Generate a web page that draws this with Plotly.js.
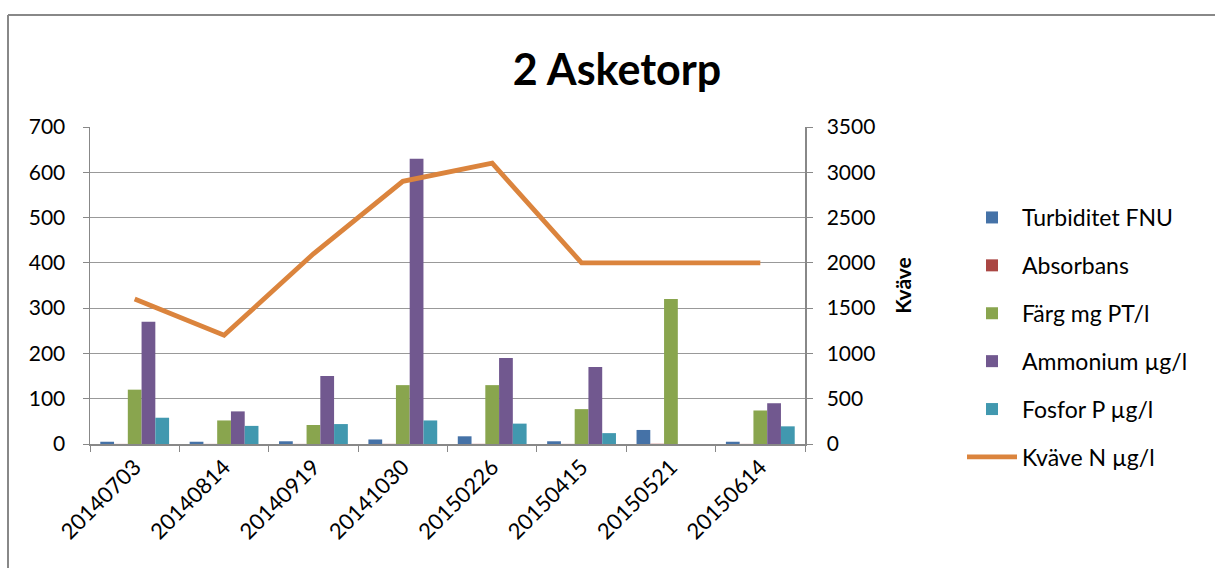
<!DOCTYPE html>
<html>
<head>
<meta charset="utf-8">
<script src="https://cdn.plot.ly/plotly-3.0.1.min.js"></script>
<style>html,body{margin:0;padding:0;background:#fff;}#chart{width:1215px;height:568px;}</style>
</head>
<body>
<div id="chart"></div>
<script>
var categories = ["20140703","20140814","20140919","20141030","20150226","20150415","20150521","20150614"];
var turbiditet = [5, 5, 6, 10, 17, 6, 31, 5];
var absorbans = [0.2, 0.2, 0.2, 0.3, 0.3, 0.2, 0.5, 0.2];
var farg = [120, 52, 42, 130, 130, 77, 320, 74];
var ammonium = [270, 72, 150, 630, 190, 170, 0, 90];
var fosfor = [58, 40, 44, 52, 45, 24, 0, 39];
var kvave = [1600, 1200, 2100, 2900, 3100, 2000, 2000, 2000];

var L = 90, R = 805, T = 127, B = 444, W = 1215, H = 568;
function px(x){ return (x - L) / (R - L); }
function py(y){ return (B - y) / (B - T); }

var font = "Lato, 'Open Sans', sans-serif";
var traces = [
  {type:"bar", name:"Turbiditet FNU", x:categories, y:turbiditet, marker:{color:"#4572A7"}, legendgroup:"a"},
  {type:"bar", name:"Absorbans", x:categories, y:absorbans, marker:{color:"#AA4643"}, legendgroup:"b"},
  {type:"bar", name:"Färg mg PT/l", x:categories, y:farg, marker:{color:"#89A54E"}, legendgroup:"c"},
  {type:"bar", name:"Ammonium µg/l", x:categories, y:ammonium, marker:{color:"#71588F"}, legendgroup:"d"},
  {type:"bar", name:"Fosfor P µg/l", x:categories, y:fosfor, marker:{color:"#4198AF"}, legendgroup:"e"},
  {type:"scatter", mode:"lines", name:"Kväve N µg/l", x:categories, y:kvave, yaxis:"y2", line:{color:"#DB843D", width:4.8}, legendgroup:"f"}
];

var layout = {
  width: W, height: H,
  margin: {l: L, r: W - R, t: T, b: H - B, pad: 0},
  paper_bgcolor: "#fff", plot_bgcolor: "#fff",
  font: {family: font, size: 21, color: "#000"},
  title: {text: "<b>2 Asketorp</b>", font: {family: font, size: 43, color: "#000"}, x: 617 / W, xref: "container", xanchor: "center", y: 1 - 70 / H, yref: "container", yanchor: "middle"},
  barmode: "group", bargap: 0.23, bargroupgap: 0,
  showlegend: true,
  legend: {x: px(962), xanchor: "left", y: py(196), yanchor: "top", font: {family: font, size: 23, color: "#000"}, traceorder: "grouped", tracegroupgap: 15, itemwidth: 50, bgcolor: "rgba(0,0,0,0)"},
  xaxis: {type: "category", tickangle: -45, tickson: "boundaries", ticks: "outside", ticklen: 6, tickcolor: "#888", showline: true, linecolor: "#888", linewidth: 1.5, showgrid: false, tickfont: {family: font, size: 22}, automargin: false},
  yaxis: {range: [0, 700], dtick: 100, ticks: "outside", ticklen: 6, tickcolor: "#888", showline: true, linecolor: "#888", linewidth: 1.5, showgrid: true, gridcolor: "#999", gridwidth: 1.2, zeroline: false, tickfont: {family: font, size: 21}, ticklabelstandoff: 13, automargin: false, fixedrange: true},
  yaxis2: {range: [0, 3500], dtick: 500, overlaying: "y", side: "right", ticks: "outside", ticklen: 6, tickcolor: "#888", showline: true, linecolor: "#888", linewidth: 1.5, showgrid: false, zeroline: false, tickfont: {family: font, size: 21}, ticklabelstandoff: 10, title: {text: "<b>Kväve</b>", font: {family: font, size: 21}, standoff: 22}, automargin: false},
  shapes: [
    {type: "line", xref: "paper", yref: "paper", x0: px(8), x1: px(1215), y0: py(15), y1: py(15), line: {color: "#888", width: 2}},
    {type: "line", xref: "paper", yref: "paper", x0: px(8), x1: px(8), y0: py(15), y1: py(568), line: {color: "#888", width: 2}}
  ]
};

Plotly.newPlot("chart", traces, layout, {displayModeBar: false, staticPlot: true});
</script>
</body>
</html>
